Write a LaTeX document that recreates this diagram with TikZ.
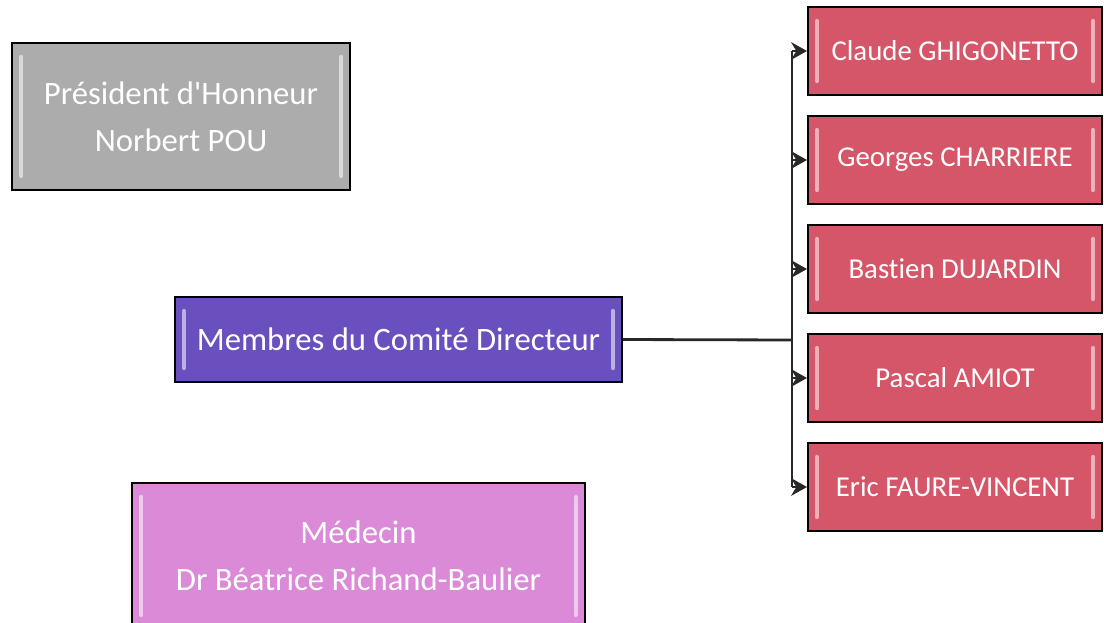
\documentclass[tikz,border=0pt]{standalone}
\usepackage{fontspec}
\setmainfont{Carlito}[Ligatures=NoCommon]
\usetikzlibrary{arrows.meta}

\definecolor{honneur}{RGB}{172,172,172}
\definecolor{comite}{RGB}{106,80,190}
\definecolor{medecin}{RGB}{218,138,214}
\definecolor{membre}{RGB}{212,86,104}
\definecolor{trait}{RGB}{40,40,40}

\begin{document}
\begin{tikzpicture}[x=0.02cm, y=-0.02cm,
  box/.style={rectangle, draw=black, line width=1.2pt, fill=#1, text=white, inner sep=0pt, align=center,
    font=\fontsize{18.6}{26.5}\selectfont,
    path picture={
      \draw[white, opacity=.55, line width=2.5pt, line cap=round]
        ([shift={(9,14)}]path picture bounding box.north west) -- ([shift={(9,-14)}]path picture bounding box.south west)
        ([shift={(-9,14)}]path picture bounding box.north east) -- ([shift={(-9,-14)}]path picture bounding box.south east);}},
  member/.style={box=membre, minimum width=5.88cm, minimum height=1.76cm, font=\fontsize{16.4}{20}\selectfont},
  link/.style={draw=trait, line width=1.6pt},
  tip/.style={link, -{Stealth[length=9pt, width=10pt]}}]
  \clip (0,0) rectangle (1104,622);
  \fill[white] (0,0) rectangle (1104,622);

  % left column
  \node[box=honneur, minimum width=6.76cm, minimum height=2.94cm] (pres) at (181,116.5)
    {Président d\textquotesingle Honneur\\Norbert POU};
  \node[box=comite, minimum width=8.94cm, minimum height=1.70cm] (dir) at (398.5,339.5)
    {Membres du Comité Directeur};
  \node[box=medecin, minimum width=9.06cm, minimum height=2.92cm] (med) at (358.5,556)
    {Médecin\\Dr Béatrice Richand-Baulier};

  % members
  \node[member] (m1) at (955,51) {Claude GHIGONETTO};
  \node[member] (m2) at (955,160) {Georges CHARRIERE};
  \node[member] (m3) at (955,269) {Bastien DUJARDIN};
  \node[member] (m4) at (955,378) {Pascal AMIOT};
  \node[member] (m5) at (955,487) {Eric FAURE-VINCENT};

  % connectors
  \coordinate (hub) at (792,340);
  \coordinate (j1) at (792,51);
  \coordinate (j2) at (792,160);
  \coordinate (j3) at (792,269);
  \coordinate (j4) at (792,378);
  \coordinate (j5) at (792,487);
  \draw[link] (dir.east) -- (hub);
  \draw[link] (j1) -- (j5);
  \draw[tip] (j1) -- (m1.west);
  \draw[tip] (j2) -- (m2.west);
  \draw[tip] (j3) -- (m3.west);
  \draw[tip] (j4) -- (m4.west);
  \draw[tip] (j5) -- (m5.west);
\end{tikzpicture}
\end{document}
